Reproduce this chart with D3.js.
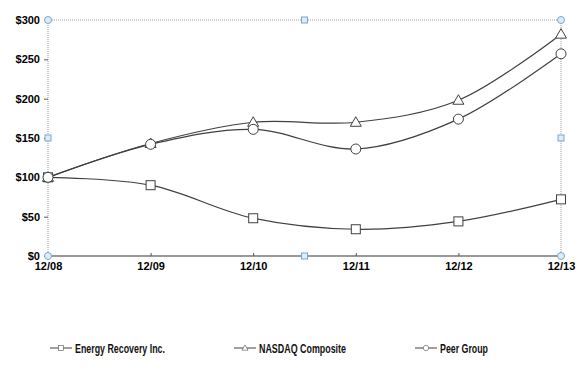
<!DOCTYPE html>
<html>
<head>
<meta charset="utf-8">
<script src="https://cdn.jsdelivr.net/npm/d3@7"></script>
<style>
  body { margin: 0; background: #fff; }
  svg { display: block; }
</style>
</head>
<body>
<div id="chart"></div>
<script>
const periods = ["12/08", "12/09", "12/10", "12/11", "12/12", "12/13"];
const energyRecovery = [100, 90, 48, 34, 44, 72];
const nasdaq = [100, 143, 170, 170, 198, 282];
const peerGroup = [100, 142, 161, 136, 174, 257];
const yTicks = [0, 50, 100, 150, 200, 250, 300];

const series = [
  { name: "Energy Recovery Inc.", values: energyRecovery, marker: "square" },
  { name: "NASDAQ Composite", values: nasdaq, marker: "triangle" },
  { name: "Peer Group", values: peerGroup, marker: "circle" },
];

const W = 584, H = 384;
const margin = { top: 20, right: 23, bottom: 128, left: 48 };
const width = W - margin.left - margin.right;
const height = H - margin.top - margin.bottom;

const svg = d3.select("#chart").append("svg")
  .attr("width", W).attr("height", H);
const g = svg.append("g")
  .attr("transform", `translate(${margin.left},${margin.top})`);

const x = d3.scalePoint().domain(periods).range([0, width]);
const y = d3.scaleLinear().domain([0, 300]).range([height, 0]);

const lineColor = "#404040";
const axisFont = "Liberation Sans, Arial, sans-serif";

// frame (dotted top / right / left)
g.append("path")
  .attr("d", `M0,${height}V0H${width}V${height}`)
  .attr("fill", "none")
  .attr("stroke", "#9a9a9a")
  .attr("stroke-width", 1)
  .attr("stroke-dasharray", "1,1");

// bottom axis line
g.append("line")
  .attr("x1", 0).attr("x2", width)
  .attr("y1", height).attr("y2", height)
  .attr("stroke", "#999").attr("stroke-width", 2);

// y axis
const yAxis = g.append("g")
  .call(d3.axisLeft(y).tickValues(yTicks).tickSize(4).tickPadding(4)
    .tickFormat(d => "$" + d));
yAxis.select(".domain").remove();
yAxis.selectAll(".tick line").attr("stroke", "#555");
yAxis.selectAll("text")
  .style("font-family", axisFont)
  .style("font-size", "11px")
  .style("font-weight", "bold")
  .attr("fill", "#000");

// x axis
const xAxis = g.append("g")
  .attr("transform", `translate(0,${height})`)
  .call(d3.axisBottom(x).tickSize(-3).tickPadding(6));
xAxis.select(".domain").remove();
xAxis.selectAll(".tick line").attr("stroke", "#555");
xAxis.selectAll("text")
  .style("font-family", axisFont)
  .style("font-size", "11px")
  .style("font-weight", "bold")
  .attr("fill", "#000");

// lines
const line = d3.line()
  .x((d, i) => x(periods[i]))
  .y(d => y(d))
  .curve(d3.curveCatmullRom.alpha(0.5));

function drawMarker(sel, type, cx, cy) {
  if (type === "square") {
    sel.append("rect")
      .attr("x", cx - 4.5).attr("y", cy - 4.5)
      .attr("width", 9).attr("height", 9)
      .attr("fill", "#fff").attr("stroke", lineColor).attr("stroke-width", 1);
  } else if (type === "circle") {
    sel.append("circle")
      .attr("cx", cx).attr("cy", cy).attr("r", 5)
      .attr("fill", "#fff").attr("stroke", lineColor).attr("stroke-width", 1);
  } else {
    sel.append("path")
      .attr("d", `M${cx},${cy - 5.5}L${cx + 5.5},${cy + 4}L${cx - 5.5},${cy + 4}Z`)
      .attr("fill", "#fff").attr("stroke", lineColor).attr("stroke-width", 1);
  }
}

series.forEach(s => {
  g.append("path")
    .datum(s.values)
    .attr("fill", "none")
    .attr("stroke", lineColor)
    .attr("stroke-width", 1.2)
    .attr("d", line);
});
series.forEach(s => {
  const mg = g.append("g");
  s.values.forEach((v, i) => drawMarker(mg, s.marker, x(periods[i]), y(v)));
});

// selection handles
const handles = g.append("g");
[[0, 0], [width, 0], [0, height], [width, height]].forEach(([hx, hy]) => {
  handles.append("circle").attr("cx", hx).attr("cy", hy).attr("r", 3.5)
    .attr("fill", "#dcecf8").attr("stroke", "#7fa6c6").attr("stroke-width", 1);
});
[[width / 2, 0], [width / 2, height], [0, height / 2], [width, height / 2]].forEach(([hx, hy]) => {
  handles.append("rect").attr("x", hx - 3).attr("y", hy - 3)
    .attr("width", 6).attr("height", 6)
    .attr("fill", "#dcecf8").attr("stroke", "#7fa6c6").attr("stroke-width", 1);
});

// legend (narrow font in the original, so squeeze text to its width)
const legendX = [50, 234, 415];
const legendTextW = [90, 87, 48];
const legend = svg.append("g").attr("transform", "translate(0,348)");
series.forEach((s, i) => {
  const lg = legend.append("g").attr("transform", `translate(${legendX[i]},0)`);
  lg.append("line").attr("x1", 0).attr("x2", 22).attr("y1", 0).attr("y2", 0)
    .attr("stroke", lineColor).attr("stroke-width", 1);
  const m = lg.append("g").attr("transform", "translate(11,0) scale(0.55)");
  drawMarker(m, s.marker, 0, 0);
  lg.append("text")
    .attr("x", 25).attr("y", 4.5)
    .attr("textLength", legendTextW[i])
    .attr("lengthAdjust", "spacingAndGlyphs")
    .style("font-family", "Liberation Sans, Arial, sans-serif")
    .style("font-size", "12.5px")
    .style("font-weight", "bold")
    .attr("fill", "#111")
    .text(s.name);
});
</script>
</body>
</html>
